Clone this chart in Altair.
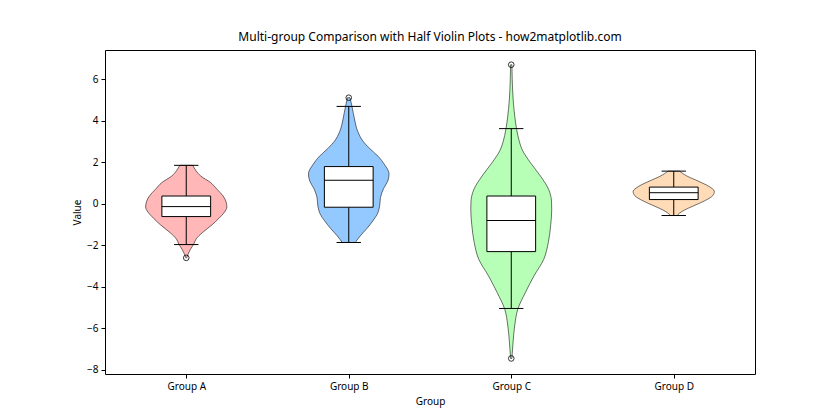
import altair as alt
import pandas as pd

# ---------------- data ----------------
groups = ["Group A", "Group B", "Group C", "Group D"]
colors = ["#FF9999", "#66B2FF", "#99FF99", "#FFCC99"]

# violin outlines: value level and half-width of the density (max = 0.25)
a_vals = [1.86, 1.6, 1.34, 1.03, 0.7, 0.4, 0.1, -0.15, -0.4, -0.7, -1.0, -1.38, -1.7, -1.95, -2.2, -2.45, -2.6]
a_half = [0.04, 0.06, 0.09, 0.15, 0.19, 0.225, 0.245, 0.25, 0.235, 0.20, 0.16, 0.10, 0.06, 0.045, 0.025, 0.01, 0.003]

b_vals = [5.12, 4.7, 4.1, 3.5, 3.0, 2.7, 2.3, 1.9, 1.45, 1.1, 0.75, 0.3, -0.1, -0.5, -0.8, -1.2, -1.55, -1.86]
b_half = [0.008, 0.02, 0.035, 0.055, 0.09, 0.125, 0.18, 0.22, 0.248, 0.24, 0.215, 0.195, 0.19, 0.175, 0.15, 0.11, 0.07, 0.04]

c_vals = [6.71, 6.0, 5.0, 4.2, 3.6, 3.0, 2.6, 2.0, 1.34, 0.7, 0.1, -0.3, -1.0, -1.86, -2.67, -3.47, -4.27, -5.08, -5.88, -6.68, -7.45]
c_half = [0.004, 0.006, 0.012, 0.022, 0.033, 0.05, 0.068, 0.117, 0.18, 0.23, 0.248, 0.249, 0.243, 0.228, 0.20, 0.14, 0.087, 0.04, 0.021, 0.011, 0.004]

d_vals = [1.58, 1.35, 1.1, 0.85, 0.6, 0.4, 0.15, -0.1, -0.3, -0.45, -0.56]
d_half = [0.035, 0.08, 0.15, 0.215, 0.25, 0.24, 0.19, 0.12, 0.065, 0.035, 0.02]

# box plot statistics
q1 = [-0.61, -0.16, -2.30, 0.21]
median = [-0.13, 1.14, -0.80, 0.54]
q3 = [0.38, 1.80, 0.38, 0.81]
whisker_lo = [-1.96, -1.86, -5.04, -0.56]
whisker_hi = [1.86, 4.70, 3.63, 1.58]
outliers = [[-2.6], [5.12], [6.71, -7.45], []]

# ---------------- tables ----------------
profiles = [(a_vals, a_half), (b_vals, b_half), (c_vals, c_half), (d_vals, d_half)]
vrows = []
for gi, (vals, half) in enumerate(profiles):
    for v, h in sorted(zip(vals, half)):
        vrows.append({"group": groups[gi], "pos": gi, "value": v,
                      "left": gi - h, "right": gi + h})
vdf = pd.DataFrame(vrows)

BOX_HALF = 0.15
CAP_HALF = 0.075
brows = []
for gi, g in enumerate(groups):
    brows.append({"group": g, "pos": gi, "q1": q1[gi], "med": median[gi], "q3": q3[gi],
                  "wlo": whisker_lo[gi], "whi": whisker_hi[gi],
                  "bl": gi - BOX_HALF, "br": gi + BOX_HALF,
                  "cl": gi - CAP_HALF, "cr": gi + CAP_HALF})
bdf = pd.DataFrame(brows)

orows = []
for gi, outs in enumerate(outliers):
    for o in outs:
        orows.append({"group": groups[gi], "pos": gi, "value": o})
odf = pd.DataFrame(orows)

# ---------------- scales ----------------
label_expr = "[" + ",".join("'%s'" % g for g in groups) + "][datum.value]"
xscale = alt.Scale(domain=[-0.5, 3.5], nice=False, zero=False)
yscale = alt.Scale(domain=[-8.2, 7.42], nice=False, zero=False)

FONT = "Noto Sans"
xaxis = alt.Axis(values=[0, 1, 2, 3], labelExpr=label_expr, title="Group",
                 grid=False, domain=False, tickColor="black", tickSize=4,
                 labelFont=FONT, labelFontSize=10, labelColor="black", labelPadding=3,
                 titleFont=FONT, titleFontSize=10, titleFontWeight="normal", titleColor="black",
                 titleY=27, titleBaseline="middle")
yaxis = alt.Axis(values=[-8, -6, -4, -2, 0, 2, 4, 6], title="Value",
                 grid=False, domain=False, tickColor="black", tickSize=4,
                 labelFont=FONT, labelFontSize=10, labelColor="black", labelPadding=3,
                 titleFont=FONT, titleFontSize=10, titleFontWeight="normal", titleColor="black",
                 titleX=-28, titleY=162, titleAngle=270, titleAlign="center", titleBaseline="middle")

color_scale = alt.Scale(domain=groups, range=colors)

violin = alt.Chart(vdf).mark_area(
    orient="horizontal", interpolate="monotone", fillOpacity=0.7,
    stroke="#000000", strokeOpacity=0.55, strokeWidth=1
).encode(
    y=alt.Y("value:Q", scale=yscale, axis=yaxis),
    x=alt.X("left:Q", scale=xscale, axis=xaxis),
    x2="right:Q",
    fill=alt.Fill("group:N", scale=color_scale, legend=None),
)

LW = 1.0
whisk_lo = alt.Chart(bdf).mark_rule(color="black", strokeWidth=LW).encode(
    x="pos:Q", y="wlo:Q", y2="q1:Q")
whisk_hi = alt.Chart(bdf).mark_rule(color="black", strokeWidth=LW).encode(
    x="pos:Q", y="q3:Q", y2="whi:Q")
cap_lo = alt.Chart(bdf).mark_rule(color="black", strokeWidth=LW).encode(
    x="cl:Q", x2="cr:Q", y="wlo:Q")
cap_hi = alt.Chart(bdf).mark_rule(color="black", strokeWidth=LW).encode(
    x="cl:Q", x2="cr:Q", y="whi:Q")
box = alt.Chart(bdf).mark_rect(fill="white", stroke="black", strokeWidth=LW).encode(
    x="bl:Q", x2="br:Q", y="q1:Q", y2="q3:Q")
med = alt.Chart(bdf).mark_rule(color="black", strokeWidth=LW).encode(
    x="bl:Q", x2="br:Q", y="med:Q")
outl = alt.Chart(odf).mark_point(shape="circle", filled=False, color="black",
                                 size=32, strokeWidth=1, opacity=0.8).encode(
    x="pos:Q", y="value:Q")

chart = alt.layer(violin, whisk_lo, whisk_hi, box, med, cap_lo, cap_hi, outl).properties(
    width=650, height=324,
    background="white",
    title=alt.Title("Multi-group Comparison with Half Violin Plots - how2matplotlib.com",
                    font=FONT, fontSize=12, fontWeight="normal", color="black",
                    anchor="middle", offset=6),
    autosize=alt.AutoSizeParams(type="none"),
    padding={"left": 105, "top": 50, "right": 85, "bottom": 46},
).configure_view(stroke="black", strokeWidth=1)

chart.save("out.html", embed_options={"renderer": "svg", "actions": False})
